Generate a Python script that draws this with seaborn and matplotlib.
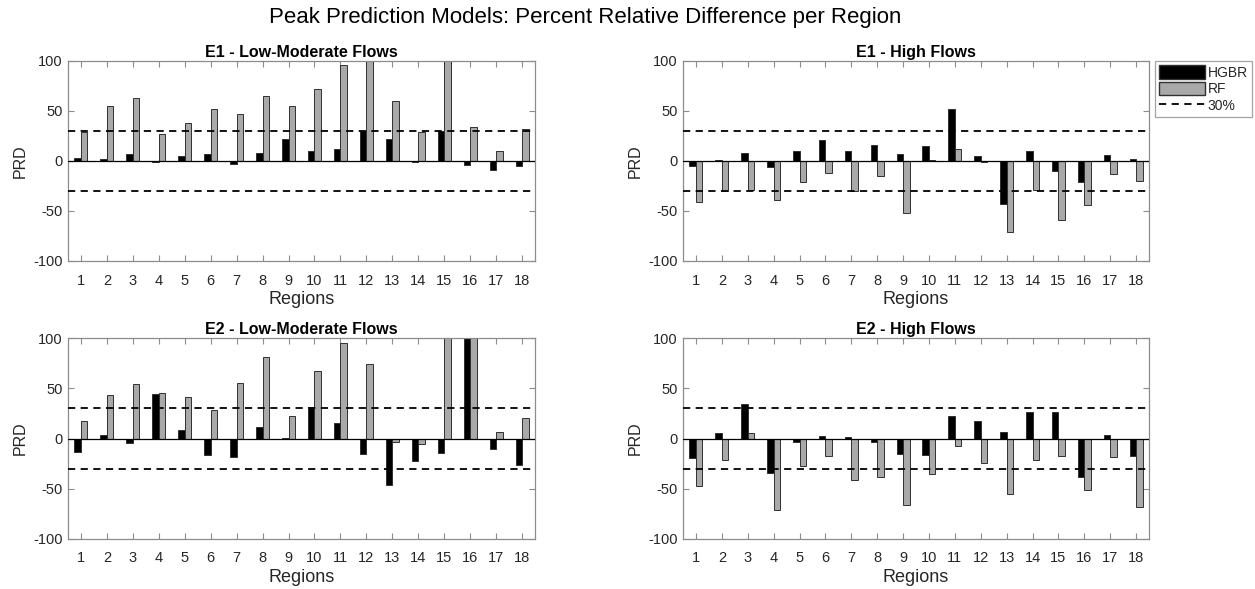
import numpy as np
import pandas as pd
import matplotlib
matplotlib.use("Agg")
import matplotlib.pyplot as plt
import seaborn as sns
from matplotlib.patches import Patch
from matplotlib.lines import Line2D

regions = [str(i) for i in range(1, 19)]
models = ["HGBR", "RF"]

e1_low_hgbr = [3, 2, 7, -1, 5, 7, -3, 8, 22, 10, 12, 30, 22, -1, 30, -4, -9, -5]
e1_low_rf = [29, 55, 63, 27, 38, 52, 47, 65, 55, 72, 96, 110, 60, 29, 120, 34, 10, 32]
e1_high_hgbr = [-5, 1, 8, -6, 10, 21, 10, 16, 7, 15, 52, 5, -43, 10, -10, -21, 6, 2]
e1_high_rf = [-41, -30, -29, -39, -21, -12, -30, -15, -52, 1, 12, -1, -71, -29, -59, -44, -13, -20]
e2_low_hgbr = [-13, 3, -4, 44, 8, -16, -18, 11, 0.5, 31, 15, -15, -46, -22, -14, 130, -10, -26]
e2_low_rf = [17, 43, 54, 45, 41, 28, 55, 81, 22, 67, 95, 74, -3, -5, 125, 120, 6, 20]
e2_high_hgbr = [-19, 5, 34, -34, -3, 2, 1, -3, -15, -16, 22, 17, 6, 26, 26, -38, 3, -17]
e2_high_rf = [-47, -21, 5, -71, -27, -17, -41, -38, -66, -35, -7, -24, -55, -21, -17, -51, -18, -68]

threshold = 30
panel_titles = ["E1 - Low-Moderate Flows", "E1 - High Flows",
                "E2 - Low-Moderate Flows", "E2 - High Flows"]
main_title = "Peak Prediction Models: Percent Relative Difference per Region"

panels = [(e1_low_hgbr, e1_low_rf), (e1_high_hgbr, e1_high_rf),
          (e2_low_hgbr, e2_low_rf), (e2_high_hgbr, e2_high_rf)]

sns.set_style("white")
plt.rcParams["font.family"] = ["Liberation Sans", "DejaVu Sans"]
plt.rcParams["axes.unicode_minus"] = False

W, H = 1255, 589
fig = plt.figure(figsize=(W / 100, H / 100), dpi=100)

boxes = [(68, 61, 535, 261), (683, 61, 1149, 261),
         (68, 338, 535, 539), (683, 338, 1149, 539)]

colors = {"HGBR": "#000000", "RF": "#a9a9a9"}
spine_col = "#8c8c8c"
text_col = "#262626"

for (hg, rf), title, (l, t, r, b) in zip(panels, panel_titles, boxes):
    ax = fig.add_axes([l / W, 1 - b / H, (r - l) / W, (b - t) / H])
    df = pd.DataFrame({
        "Region": regions * 2,
        "Model": ["HGBR"] * len(regions) + ["RF"] * len(regions),
        "PRD": list(hg) + list(rf),
    })
    sns.barplot(data=df, x="Region", y="PRD", hue="Model", hue_order=models,
                order=regions, palette=colors, width=0.5, gap=0,
                edgecolor="#303030", linewidth=0.7, legend=False, ax=ax,
                errorbar=None)
    ax.axhline(0, color="black", lw=0.9, zorder=3)
    ax.axhline(threshold, color="black", lw=1.3, ls=(0, (4, 3)), zorder=3)
    ax.axhline(-threshold, color="black", lw=1.3, ls=(0, (4, 3)), zorder=3)
    ax.set_ylim(-100, 100)
    ax.set_xlim(-0.5, len(regions) - 0.5)
    ax.set_yticks([-100, -50, 0, 50, 100])
    ax.set_title(title, fontsize=11.5, fontweight="bold", pad=3, color="black")
    ax.set_xlabel("Regions", fontsize=13, color=text_col, labelpad=2.5)
    ax.set_ylabel("PRD", fontsize=11.5, color=text_col, labelpad=4)
    ax.tick_params(direction="in", length=4, width=0.8, colors=spine_col,
                   labelcolor=text_col, labelsize=10.5, top=True, right=True,
                   bottom=True, left=True)
    ax.tick_params(axis="x", pad=9)
    ax.tick_params(axis="y", pad=4)
    for s in ax.spines.values():
        s.set_visible(True)
        s.set_color(spine_col)
        s.set_linewidth(0.9)
    if title == "E1 - High Flows":
        handles = [Patch(facecolor=colors["HGBR"], edgecolor="#303030", label="HGBR"),
                   Patch(facecolor=colors["RF"], edgecolor="#303030", label="RF"),
                   Line2D([0], [0], color="black", ls=(0, (4, 3)), lw=1.3,
                          label=f"{threshold}%")]
        leg = ax.legend(handles=handles, loc="upper left",
                        bbox_to_anchor=(1.013, 1.0), fontsize=10,
                        frameon=True, fancybox=False, handlelength=3.3,
                        handleheight=1.1, handletextpad=0.2, borderpad=0.3,
                        labelspacing=0.15, borderaxespad=0.0)
        leg.get_frame().set_edgecolor(spine_col)
        leg.get_frame().set_linewidth(0.9)

fig.text(585 / W, 1 - 17 / H, main_title, ha="center", va="center",
         fontsize=16, color="black")

fig.savefig("out.png", dpi=100, facecolor="white")
